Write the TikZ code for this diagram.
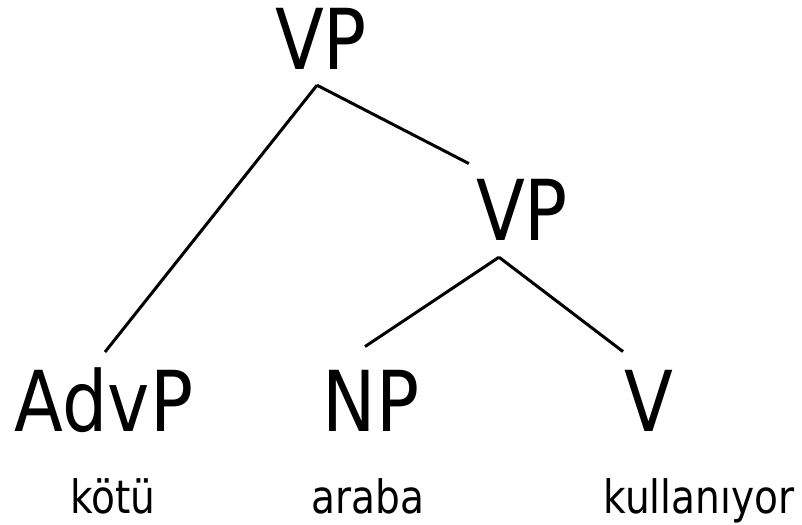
\documentclass[tikz,border=0pt]{standalone}
\usepackage{fontspec}
\setmainfont[FakeStretch=0.85]{DejaVu Sans}
\begin{document}
\begin{tikzpicture}[x=1pt,y=-1pt,
    cat/.style={anchor=base, inner xsep=0pt, inner ysep=15pt,
      font=\fontsize{84}{84}\selectfont},
    word/.style={anchor=base, inner sep=0pt,
      font=\fontsize{46}{46}\selectfont},
    branch/.style={line width=3pt}]
  \useasboundingbox (0,0) rectangle (802,524);
  % categories
  \node[cat] (vp1) at (321,70) {VP};
  \node[cat] (vp2) at (522,240) {VP};
  \node[cat] (advp) at (104,431) {AdvP};
  \node[cat] (np) at (371,431) {NP};
  \node[cat] (v) at (649,431) {V};
  % words
  \node[word] (kotu) at (113,513) {kötü};
  \node[word] (araba) at (368,513) {araba};
  \node[word] (kullaniyor) at (699,513) {kullanıyor};
  % branches
  \draw[branch] ([xshift=-4pt]vp1.south) -- ([xshift=1pt]advp.north);
  \draw[branch] ([xshift=-4pt]vp1.south) -- ([xshift=-7pt]vp2.north west);
  \draw[branch] ([xshift=-23pt,yshift=-2pt]vp2.south) -- ([shift={(-6pt,8pt)}]np.north);
  \draw[branch] ([xshift=-23pt,yshift=-2pt]vp2.south) -- ([shift={(-26pt,3pt)}]v.north);
\end{tikzpicture}
\end{document}
